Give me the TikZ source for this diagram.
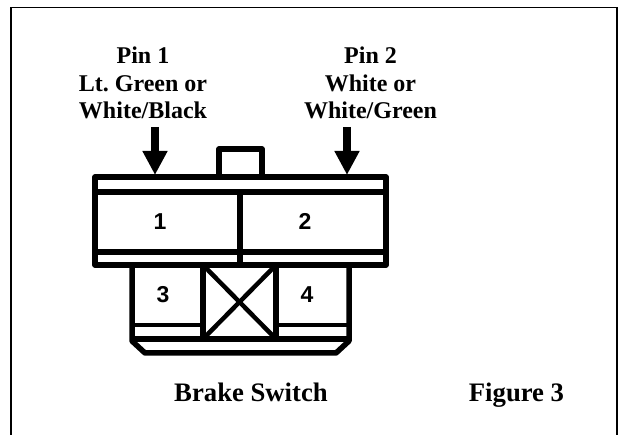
\documentclass[tikz,border=0pt]{standalone}
\usepackage{fontspec}
\setmainfont{Liberation Serif}
\setsansfont{Liberation Sans}
\usetikzlibrary{arrows.meta}
\begin{document}
\begin{tikzpicture}[
        x = 1pt,
        y = -1pt,
        heavy/.style     = {line width=5.5pt, line join=round},
        medium/.style    = {line width=4.5pt},
        thin strip/.style = {line width=4.5pt},
        pin arrow/.style = {line width=7.5pt, -{Triangle[width=23.5pt, length=24pt]}},
        caption/.style   = {font=\bfseries\fontsize{24}{27.7}\selectfont, align=center, inner sep=0pt},
        title/.style     = {font=\bfseries\fontsize{26.7}{30}\selectfont, inner sep=0pt, anchor=base},
        number/.style    = {font=\sffamily\bfseries\fontsize{23}{23}\selectfont, inner sep=0pt, anchor=base},
    ]
    \useasboundingbox (0,0) rectangle (619,435);
    % frame, open at the bottom
    \draw[line width=1.6pt] (11,435) -- (11,7.5) -- (617,7.5) -- (617,435);

    % labels
    \node[caption] (pin1) at (143,83) {Pin 1\\Lt.\ Green or\\White/Black};
    \node[caption] (pin2) at (370.5,83) {Pin 2\\White or\\White/Green};
    \node[title] (name) at (251,402) {Brake Switch};
    \node[title] (figure) at (516.5,402) {Figure 3};

    % tab and upper housing
    \draw[heavy] (219,177) -- (219,149) -- (262,149) -- (262,177);
    \draw[heavy] (95,177) rectangle (386,265);
    \draw[heavy] (95,192) -- (386,192);
    \draw[heavy] (95,252) -- (386,252);
    \draw[heavy] (240,192) -- (240,265);

    % lower housing
    \draw[heavy] (132,265) -- (132,341) -- (145,353) -- (336,353) -- (349,341) -- (349,265);
    \draw[heavy] (132,339) -- (349,339);
    \draw[thin strip] (132,325) -- (203,325);
    \draw[thin strip] (276,325) -- (349,325);
    \draw[heavy] (203,265) -- (203,339);
    \draw[heavy] (276,265) -- (276,339);
    \draw[medium] (203,265) -- (276,339);
    \draw[medium] (276,265) -- (203,339);

    % pin numbers
    \node[number] (n1) at (160,229.5) {1};
    \node[number] (n2) at (305,229.5) {2};
    \node[number] (n3) at (163,303) {3};
    \node[number] (n4) at (307,303) {4};

    % arrows
    \coordinate (a1) at (155,127);
    \coordinate (b1) at (155,175);
    \coordinate (a2) at (347,127);
    \coordinate (b2) at (347,175);
    \draw[pin arrow] (a1) -- (b1);
    \draw[pin arrow] (a2) -- (b2);
\end{tikzpicture}
\end{document}
